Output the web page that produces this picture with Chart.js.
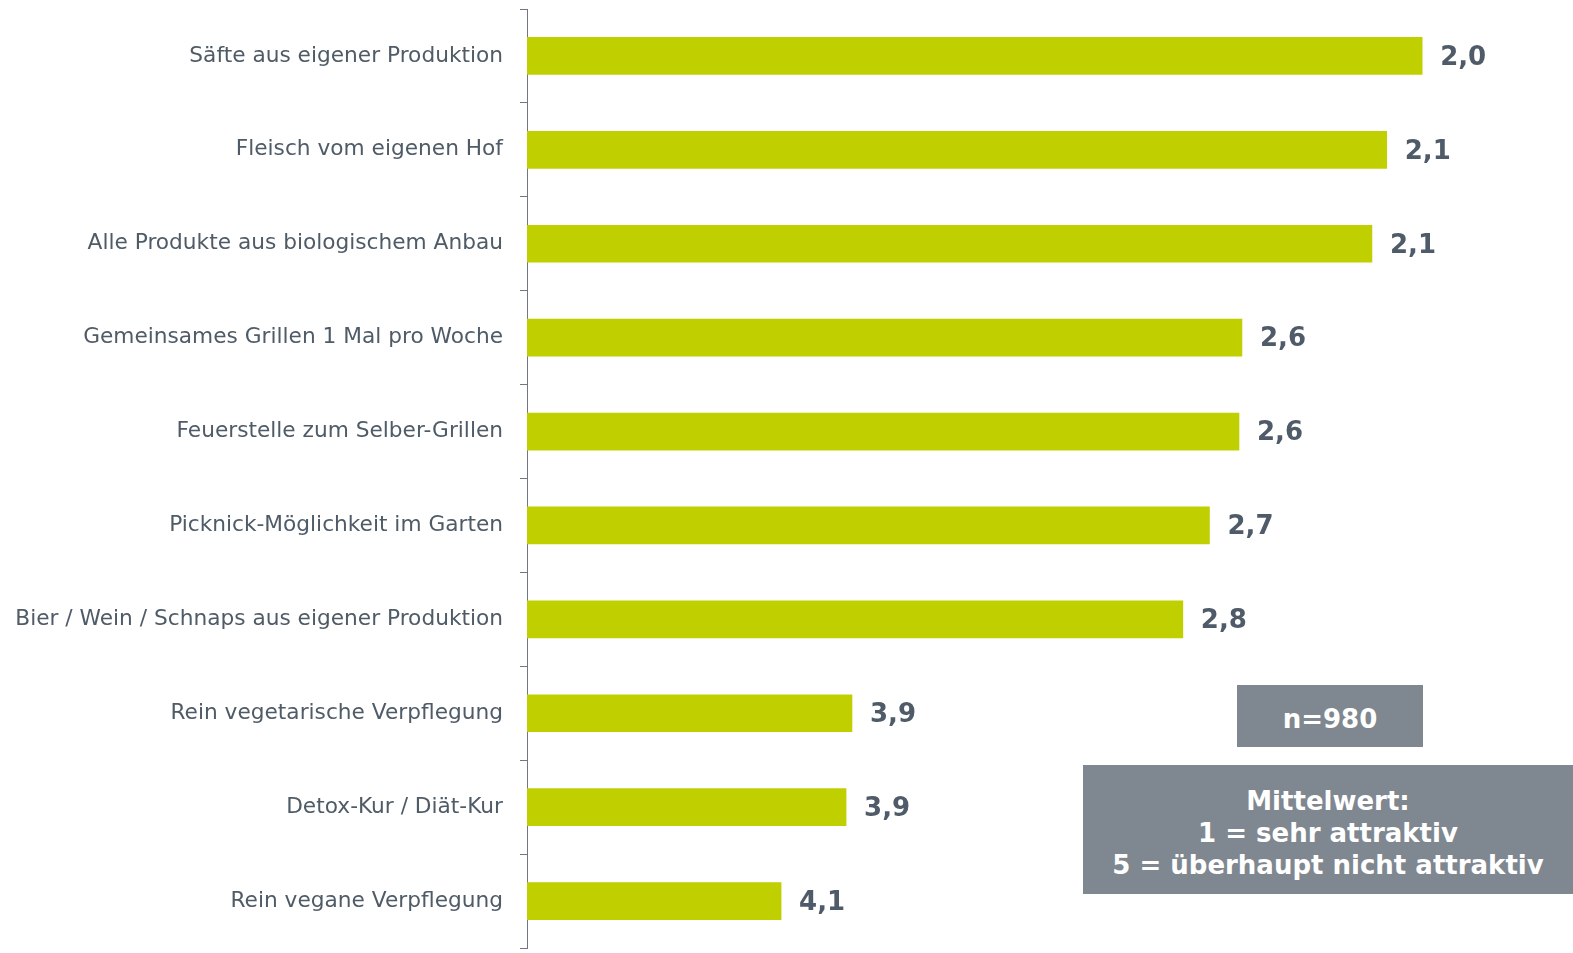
<!DOCTYPE html>
<html>
<head>
<meta charset="utf-8">
<script src="https://cdn.jsdelivr.net/npm/chart.js@4"></script>
<style>
  html, body { margin: 0; padding: 0; background: #fff; }
  #wrap { position: relative; width: 1573px; height: 953px; }
  .box {
    position: absolute;
    box-sizing: border-box;
    background: #7f8790;
    color: #fff;
    font-family: "DejaVu Sans", Verdana, sans-serif;
    font-weight: bold;
    font-size: 26px;
    text-align: center;
    display: flex;
    flex-direction: column;
    justify-content: center;
    line-height: 32px;
  }
</style>
</head>
<body>
<div id="wrap">
  <canvas id="rankChart" width="1573" height="953"></canvas>
  <div class="box" style="left:1237px; top:685px; width:186px; height:62px; padding-top:6px;">n=980</div>
  <div class="box" style="left:1083px; top:765px; width:490px; height:129px; padding-top:7px;">
    <div>Mittelwert:</div>
    <div>1 = sehr attraktiv</div>
    <div>5 = überhaupt nicht attraktiv</div>
  </div>
</div>
<script>
// Mean ratings (1 = very attractive, 5 = not attractive at all)
const categories = [
    'Säfte aus eigener Produktion',
    'Fleisch vom eigenen Hof',
    'Alle Produkte aus biologischem Anbau',
    'Gemeinsames Grillen 1 Mal pro Woche',
    'Feuerstelle zum Selber-Grillen',
    'Picknick-Möglichkeit im Garten',
    'Bier / Wein / Schnaps aus eigener Produktion',
    'Rein vegetarische Verpflegung',
    'Detox-Kur / Diät-Kur',
    'Rein vegane Verpflegung'
];
const means = [1.97, 2.09, 2.14, 2.58, 2.59, 2.69, 2.78, 3.90, 3.92, 4.14];

// value labels after each bar, german decimal comma
const valueLabels = {
    id: 'valueLabels',
    afterDatasetsDraw(chart) {
        const ctx = chart.ctx;
        const meta = chart.getDatasetMeta(0);
        ctx.save();
        ctx.font = 'bold 26px "DejaVu Sans", Verdana, sans-serif';
        ctx.fillStyle = '#4f5b68';
        ctx.textAlign = 'left';
        ctx.textBaseline = 'middle';
        meta.data.forEach(function (bar, i) {
            const txt = means[i].toFixed(1).replace('.', ',');
            ctx.fillText(txt, bar.x + 18, bar.y + 2);
        });
        ctx.restore();
    }
};

new Chart(document.getElementById('rankChart'), {
    type: 'bar',
    data: {
        labels: categories,
        datasets: [{
            data: means,
            base: 5,
            backgroundColor: '#bfcf00',
            borderWidth: 0,
            barThickness: 37
        }]
    },
    options: {
        indexAxis: 'y',
        responsive: false,
        animation: false,
        layout: {
            padding: { top: 9, bottom: 5, left: 0, right: 12 }
        },
        plugins: {
            legend: { display: false },
            tooltip: { enabled: false }
        },
        scales: {
            x: {
                display: false,
                reverse: true,
                min: 1.5,
                max: 5
            },
            y: {
                afterFit: function (scale) {
                    scale.width = 527;
                    scale.paddingTop = 0;
                    scale.paddingBottom = 0;
                },
                grid: {
                    offset: true,
                    drawOnChartArea: false,
                    tickLength: 7,
                    color: '#6f7882',
                    tickWidth: 1
                },
                border: {
                    color: '#6f7882',
                    width: 1
                },
                ticks: {
                    padding: 17,
                    color: '#4f5b67',
                    font: { family: '"DejaVu Sans", Verdana, sans-serif', size: 21.7 }
                }
            }
        }
    },
    plugins: [valueLabels]
});
</script>
</body>
</html>
